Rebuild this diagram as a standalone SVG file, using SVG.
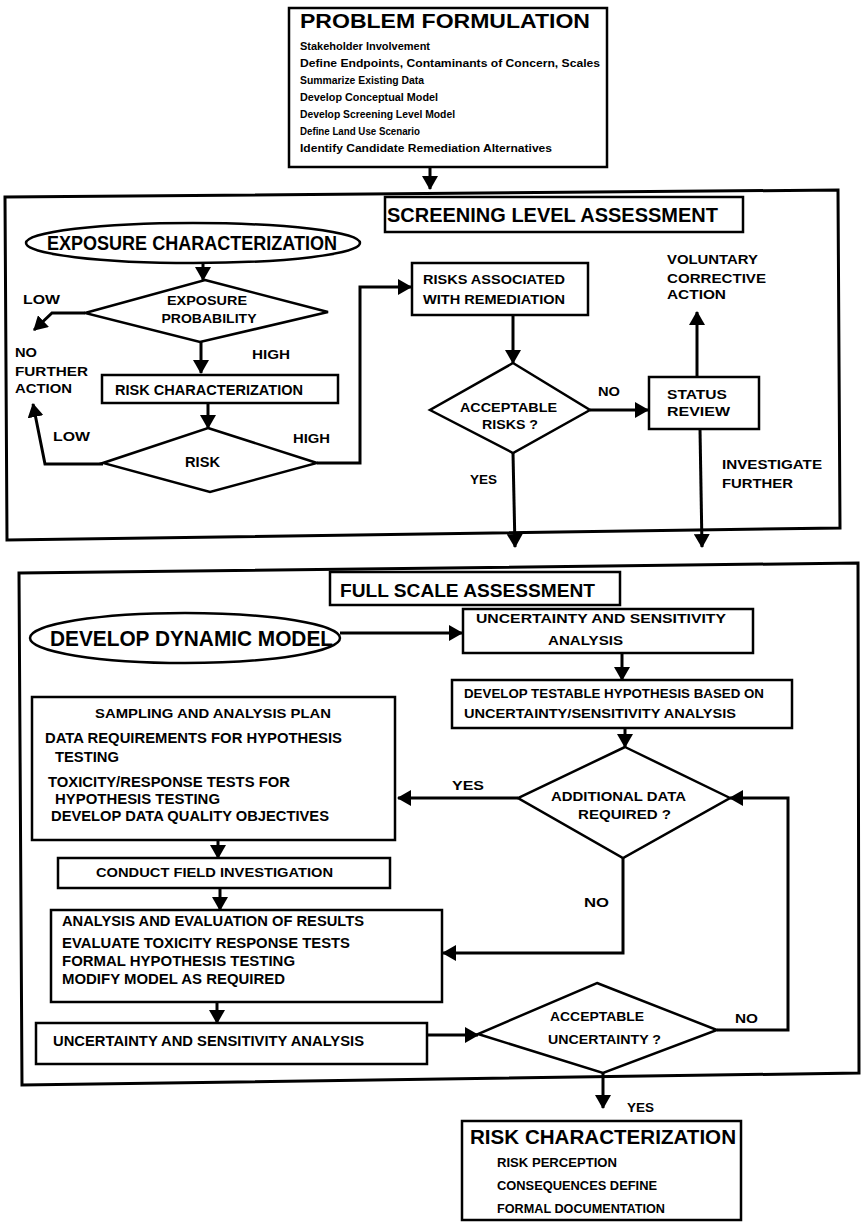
<svg xmlns="http://www.w3.org/2000/svg" width="864" height="1223" viewBox="0 0 864 1223">
<defs>
<style>
.t{font-family:"Liberation Sans",Arial,sans-serif;font-weight:bold;fill:#000;}
.box{fill:#fff;stroke:#000;stroke-width:2.5;}
.frame{fill:none;stroke:#000;stroke-width:3;}
.ln{fill:none;stroke:#000;stroke-width:3;}
</style>
<marker id="ah" viewBox="0 0 14 16" refX="13" refY="8" markerWidth="14" markerHeight="16" markerUnits="userSpaceOnUse" orient="auto">
<path d="M0,0 L14,8 L0,16 Z" fill="#000"/>
</marker>
</defs>
<rect width="864" height="1223" fill="#fff"/>

<g id="frames">
<path class="frame" d="M5,197 L838,190 L840,528 L7,540 Z"/>
<path class="frame" d="M19,573 L858,563 L859,1073 L22,1085 Z"/>
</g>

<g id="connectors">
<path class="ln" d="M430,167 L430,189" marker-end="url(#ah)"/>
<path class="ln" d="M203,263 L203,280" marker-end="url(#ah)"/>
<path class="ln" d="M85,313 L52,313 L34,330" marker-end="url(#ah)"/>
<path class="ln" d="M201,342 L201,373" marker-end="url(#ah)"/>
<path class="ln" d="M208,403 L208,428" marker-end="url(#ah)"/>
<path class="ln" d="M103,464 L45,464 L33,404" marker-end="url(#ah)"/>
<path class="ln" d="M317,463 L360,463 L360,287 L411,287" marker-end="url(#ah)"/>
<path class="ln" d="M513,315 L513,363" marker-end="url(#ah)"/>
<path class="ln" d="M590,410 L648,410" marker-end="url(#ah)"/>
<path class="ln" d="M697,377 L697,312" marker-end="url(#ah)"/>
<path class="ln" d="M700,429 L702,547" marker-end="url(#ah)"/>
<path class="ln" d="M513,453 L515,547" marker-end="url(#ah)"/>
<path class="ln" d="M340,633 L462,633" marker-end="url(#ah)"/>
<path class="ln" d="M622,653 L622,680" marker-end="url(#ah)"/>
<path class="ln" d="M625,728 L625,747" marker-end="url(#ah)"/>
<path class="ln" d="M518,798 L398,798" marker-end="url(#ah)"/>
<path class="ln" d="M218,840 L218,858" marker-end="url(#ah)"/>
<path class="ln" d="M220,888 L220,910" marker-end="url(#ah)"/>
<path class="ln" d="M623,858 L623,953 L443,953" marker-end="url(#ah)"/>
<path class="ln" d="M217,1002 L217,1023" marker-end="url(#ah)"/>
<path class="ln" d="M427,1035 L478,1035" marker-end="url(#ah)"/>
<path class="ln" d="M717,1030 L788,1030 L788,798 L730,798" marker-end="url(#ah)"/>
<path class="ln" d="M603,1073 L603,1108" marker-end="url(#ah)"/>
</g>

<g id="problem-formulation">
<rect class="box" x="289" y="8" width="318" height="159"/>
<text class="t" x="300" y="28" font-size="20" textLength="290" lengthAdjust="spacingAndGlyphs">PROBLEM FORMULATION</text>
<text class="t" x="300" y="50" font-size="10.5" textLength="130" lengthAdjust="spacingAndGlyphs">Stakeholder Involvement</text>
<text class="t" x="300" y="67" font-size="10.5" textLength="300" lengthAdjust="spacingAndGlyphs">Define Endpoints, Contaminants of Concern, Scales</text>
<text class="t" x="300" y="84" font-size="10.5" textLength="124" lengthAdjust="spacingAndGlyphs">Summarize Existing Data</text>
<text class="t" x="300" y="101" font-size="10.5" textLength="138" lengthAdjust="spacingAndGlyphs">Develop Conceptual Model</text>
<text class="t" x="300" y="118" font-size="10.5" textLength="155" lengthAdjust="spacingAndGlyphs">Develop Screening Level Model</text>
<text class="t" x="300" y="135" font-size="10.5" textLength="120" lengthAdjust="spacingAndGlyphs">Define Land Use Scenario</text>
<text class="t" x="300" y="152" font-size="10.5" textLength="252" lengthAdjust="spacingAndGlyphs">Identify Candidate Remediation Alternatives</text>
</g>

<g id="screening-title">
<rect class="box" x="385" y="197" width="358" height="35"/>
<text class="t" x="387" y="222" font-size="20" textLength="331" lengthAdjust="spacingAndGlyphs">SCREENING LEVEL ASSESSMENT</text>
</g>

<g id="exposure-characterization">
<ellipse class="box" cx="193" cy="243" rx="167" ry="20"/>
<text class="t" x="47" y="250" font-size="20" textLength="290" lengthAdjust="spacingAndGlyphs">EXPOSURE CHARACTERIZATION</text>
</g>

<g id="exposure-probability">
<polygon class="box" points="205,280 328,312 200,342 85,313"/>
<text class="t" x="207" y="305" font-size="13" text-anchor="middle" textLength="80" lengthAdjust="spacingAndGlyphs">EXPOSURE</text>
<text class="t" x="209" y="323" font-size="13" text-anchor="middle" textLength="95" lengthAdjust="spacingAndGlyphs">PROBABILITY</text>
</g>

<g id="labels-left">
<text class="t" x="23" y="304" font-size="13" textLength="37" lengthAdjust="spacingAndGlyphs">LOW</text>
<text class="t" x="15" y="357" font-size="13" textLength="22" lengthAdjust="spacingAndGlyphs">NO</text>
<text class="t" x="15" y="376" font-size="13" textLength="73" lengthAdjust="spacingAndGlyphs">FURTHER</text>
<text class="t" x="15" y="393" font-size="13" textLength="57" lengthAdjust="spacingAndGlyphs">ACTION</text>
<text class="t" x="252" y="359" font-size="13" textLength="38" lengthAdjust="spacingAndGlyphs">HIGH</text>
<text class="t" x="53" y="441" font-size="13" textLength="37" lengthAdjust="spacingAndGlyphs">LOW</text>
<text class="t" x="293" y="443" font-size="13" textLength="37" lengthAdjust="spacingAndGlyphs">HIGH</text>
</g>

<g id="risk-characterization-1">
<rect class="box" x="102" y="375" width="236" height="28"/>
<text class="t" x="115" y="395" font-size="14" textLength="188" lengthAdjust="spacingAndGlyphs">RISK CHARACTERIZATION</text>
</g>

<g id="risk">
<polygon class="box" points="208,428 317,463 210,492 103,463"/>
<text class="t" x="185" y="467" font-size="14" textLength="35" lengthAdjust="spacingAndGlyphs">RISK</text>
</g>

<g id="risks-remediation">
<rect class="box" x="412" y="263" width="176" height="52"/>
<text class="t" x="423" y="284" font-size="13" textLength="142" lengthAdjust="spacingAndGlyphs">RISKS ASSOCIATED</text>
<text class="t" x="423" y="304" font-size="13" textLength="142" lengthAdjust="spacingAndGlyphs">WITH REMEDIATION</text>
</g>

<g id="acceptable-risks">
<polygon class="box" points="513,363 590,410 513,453 430,410"/>
<text class="t" x="460" y="412" font-size="13" textLength="97" lengthAdjust="spacingAndGlyphs">ACCEPTABLE</text>
<text class="t" x="482" y="429" font-size="13" textLength="56" lengthAdjust="spacingAndGlyphs">RISKS ?</text>
</g>

<g id="status-review">
<rect class="box" x="649" y="377" width="110" height="52"/>
<text class="t" x="667" y="399" font-size="13" textLength="60" lengthAdjust="spacingAndGlyphs">STATUS</text>
<text class="t" x="667" y="416" font-size="13" textLength="63" lengthAdjust="spacingAndGlyphs">REVIEW</text>
</g>

<g id="labels-right">
<text class="t" x="598" y="396" font-size="13" textLength="22" lengthAdjust="spacingAndGlyphs">NO</text>
<text class="t" x="667" y="264" font-size="13" textLength="91" lengthAdjust="spacingAndGlyphs">VOLUNTARY</text>
<text class="t" x="667" y="283" font-size="13" textLength="99" lengthAdjust="spacingAndGlyphs">CORRECTIVE</text>
<text class="t" x="667" y="299" font-size="13" textLength="59" lengthAdjust="spacingAndGlyphs">ACTION</text>
<text class="t" x="470" y="484" font-size="13" textLength="27" lengthAdjust="spacingAndGlyphs">YES</text>
<text class="t" x="722" y="469" font-size="13" textLength="100" lengthAdjust="spacingAndGlyphs">INVESTIGATE</text>
<text class="t" x="722" y="488" font-size="13" textLength="71" lengthAdjust="spacingAndGlyphs">FURTHER</text>
</g>

<g id="full-title">
<rect class="box" x="330" y="572" width="290" height="33"/>
<text class="t" x="340" y="597" font-size="18" textLength="255" lengthAdjust="spacingAndGlyphs">FULL SCALE ASSESSMENT</text>
</g>

<g id="develop-dynamic-model">
<ellipse class="box" cx="185" cy="638" rx="155" ry="25"/>
<text class="t" x="50" y="646" font-size="22" textLength="283" lengthAdjust="spacingAndGlyphs">DEVELOP DYNAMIC MODEL</text>
</g>

<g id="uncertainty-1">
<rect class="box" x="463" y="609" width="290" height="44"/>
<text class="t" x="476" y="623" font-size="12" textLength="250" lengthAdjust="spacingAndGlyphs">UNCERTAINTY AND SENSITIVITY</text>
<text class="t" x="548" y="645" font-size="12" textLength="75" lengthAdjust="spacingAndGlyphs">ANALYSIS</text>
</g>

<g id="testable-hypothesis">
<rect class="box" x="452" y="680" width="340" height="48"/>
<text class="t" x="464" y="698" font-size="13" textLength="300" lengthAdjust="spacingAndGlyphs">DEVELOP TESTABLE HYPOTHESIS BASED ON</text>
<text class="t" x="464" y="718" font-size="13" textLength="272" lengthAdjust="spacingAndGlyphs">UNCERTAINTY/SENSITIVITY ANALYSIS</text>
</g>

<g id="additional-data">
<polygon class="box" points="625,747 730,798 623,858 518,798"/>
<text class="t" x="551" y="801" font-size="13" textLength="135" lengthAdjust="spacingAndGlyphs">ADDITIONAL DATA</text>
<text class="t" x="578" y="819" font-size="13" textLength="93" lengthAdjust="spacingAndGlyphs">REQUIRED ?</text>
</g>

<g id="sampling-plan">
<rect class="box" x="32" y="697" width="363" height="143"/>
<text class="t" x="213" y="718" font-size="13" text-anchor="middle" textLength="236" lengthAdjust="spacingAndGlyphs">SAMPLING AND ANALYSIS PLAN</text>
<text class="t" x="45" y="743" font-size="14" textLength="297" lengthAdjust="spacingAndGlyphs">DATA REQUIREMENTS FOR HYPOTHESIS</text>
<text class="t" x="55" y="762" font-size="14" textLength="64" lengthAdjust="spacingAndGlyphs">TESTING</text>
<text class="t" x="48" y="787" font-size="14" textLength="242" lengthAdjust="spacingAndGlyphs">TOXICITY/RESPONSE TESTS FOR</text>
<text class="t" x="55" y="804" font-size="14" textLength="165" lengthAdjust="spacingAndGlyphs">HYPOTHESIS TESTING</text>
<text class="t" x="51" y="821" font-size="14" textLength="278" lengthAdjust="spacingAndGlyphs">DEVELOP DATA QUALITY OBJECTIVES</text>
</g>

<g id="field-investigation">
<rect class="box" x="58" y="858" width="332" height="30"/>
<text class="t" x="96" y="877" font-size="13" textLength="237" lengthAdjust="spacingAndGlyphs">CONDUCT FIELD INVESTIGATION</text>
</g>

<g id="analysis-evaluation">
<rect class="box" x="51" y="910" width="391" height="92"/>
<text class="t" x="62" y="926" font-size="14" textLength="302" lengthAdjust="spacingAndGlyphs">ANALYSIS AND EVALUATION OF RESULTS</text>
<text class="t" x="62" y="948" font-size="14" textLength="288" lengthAdjust="spacingAndGlyphs">EVALUATE TOXICITY RESPONSE TESTS</text>
<text class="t" x="62" y="966" font-size="14" textLength="233" lengthAdjust="spacingAndGlyphs">FORMAL HYPOTHESIS TESTING</text>
<text class="t" x="62" y="984" font-size="14" textLength="223" lengthAdjust="spacingAndGlyphs">MODIFY MODEL AS REQUIRED</text>
</g>

<g id="uncertainty-2">
<rect class="box" x="36" y="1023" width="391" height="41"/>
<text class="t" x="53" y="1046" font-size="14" textLength="311" lengthAdjust="spacingAndGlyphs">UNCERTAINTY AND SENSITIVITY ANALYSIS</text>
</g>

<g id="acceptable-uncertainty">
<polygon class="box" points="597,983 717,1030 603,1073 478,1034"/>
<text class="t" x="550" y="1021" font-size="13" textLength="94" lengthAdjust="spacingAndGlyphs">ACCEPTABLE</text>
<text class="t" x="548" y="1044" font-size="13" textLength="113" lengthAdjust="spacingAndGlyphs">UNCERTAINTY ?</text>
</g>

<g id="labels-full">
<text class="t" x="452" y="790" font-size="13" textLength="32" lengthAdjust="spacingAndGlyphs">YES</text>
<text class="t" x="584" y="907" font-size="13" textLength="25" lengthAdjust="spacingAndGlyphs">NO</text>
<text class="t" x="735" y="1023" font-size="13" textLength="23" lengthAdjust="spacingAndGlyphs">NO</text>
<text class="t" x="627" y="1112" font-size="13" textLength="27" lengthAdjust="spacingAndGlyphs">YES</text>
</g>

<g id="risk-characterization-2">
<rect class="box" x="462" y="1121" width="279" height="99"/>
<text class="t" x="470" y="1144" font-size="20" textLength="266" lengthAdjust="spacingAndGlyphs">RISK CHARACTERIZATION</text>
<text class="t" x="497" y="1167" font-size="13" textLength="120" lengthAdjust="spacingAndGlyphs">RISK PERCEPTION</text>
<text class="t" x="497" y="1190" font-size="13" textLength="160" lengthAdjust="spacingAndGlyphs">CONSEQUENCES DEFINE</text>
<text class="t" x="497" y="1213" font-size="13" textLength="168" lengthAdjust="spacingAndGlyphs">FORMAL  DOCUMENTATION</text>
</g>
</svg>
